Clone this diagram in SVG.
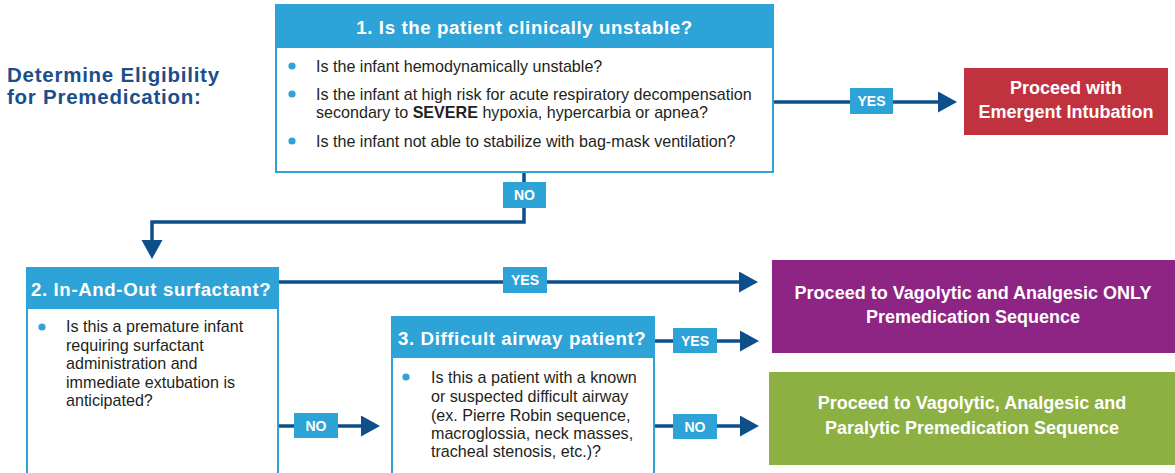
<svg xmlns="http://www.w3.org/2000/svg" width="1175" height="473" viewBox="0 0 1175 473">
  <style>
    text { font-family: "Liberation Sans", Arial, sans-serif; }
    .hdr { fill: #2ea3d8; }
    .frame { fill: #ffffff; stroke: #2ea3d8; stroke-width: 2; }
    .htxt { fill: #ffffff; font-weight: bold; font-size: 18.7px; letter-spacing: 0.6px; }
    .body { fill: #231f20; font-size: 16.1px; }
    .dot { fill: #2ea3d8; }
    .title { fill: #1b4f8b; font-weight: bold; font-size: 20.5px; letter-spacing: 0.75px; }
    .out { fill: #ffffff; font-weight: bold; font-size: 18px; text-anchor: middle; }
    .wire { fill: none; stroke: #0d4f8b; stroke-width: 3.5; }
    .tag { fill: #2ea3d8; }
    .tagtxt { fill: #ffffff; font-weight: bold; font-size: 14px; text-anchor: middle; }
  </style>
  <defs>
    <marker id="head" markerUnits="userSpaceOnUse" markerWidth="20" markerHeight="22" refX="2" refY="10.5" orient="auto">
      <path d="M0,0 L19,10.5 L0,21 Z" fill="#0d4f8b"/>
    </marker>
  </defs>

  <rect width="1175" height="473" fill="#ffffff"/>

  <!-- Heading -->
  <g id="heading">
    <text class="title" x="7" y="82">Determine Eligibility</text>
    <text class="title" x="7" y="104">for Premedication:</text>
  </g>

  <!-- Connectors -->
  <g id="connectors">
    <!-- 1 -> emergent intubation (YES) -->
    <path class="wire" d="M773,102 H940" marker-end="url(#head)"/>
    <!-- 1 -> 2 (NO) -->
    <path class="wire" d="M524,172 V222 H152 V242" marker-end="url(#head)"/>
    <!-- 2 -> vagolytic/analgesic only (YES) -->
    <path class="wire" d="M278,282 H741" marker-end="url(#head)"/>
    <!-- 2 -> 3 (NO) -->
    <path class="wire" d="M278,426 H363" marker-end="url(#head)"/>
    <!-- 3 -> vagolytic/analgesic only (YES) -->
    <path class="wire" d="M654,341 H742" marker-end="url(#head)"/>
    <!-- 3 -> full sequence (NO) -->
    <path class="wire" d="M654,426 H742" marker-end="url(#head)"/>

    <rect class="tag" x="850" y="88" width="43" height="26"/>
    <text class="tagtxt" x="871.5" y="106">YES</text>
    <rect class="tag" x="503" y="182" width="43" height="26"/>
    <text class="tagtxt" x="524.5" y="200">NO</text>
    <rect class="tag" x="503" y="267" width="44" height="26"/>
    <text class="tagtxt" x="525" y="285">YES</text>
    <rect class="tag" x="294" y="413" width="44" height="25"/>
    <text class="tagtxt" x="316" y="430.5">NO</text>
    <rect class="tag" x="673" y="328" width="44" height="25"/>
    <text class="tagtxt" x="695" y="345.5">YES</text>
    <rect class="tag" x="673" y="414" width="44" height="25"/>
    <text class="tagtxt" x="695" y="431.5">NO</text>
  </g>

  <!-- Question 1 -->
  <g id="q1">
    <rect class="frame" x="276" y="5" width="497" height="167"/>
    <rect class="hdr" x="275" y="4" width="499" height="44"/>
    <text class="htxt" x="524.5" y="34" text-anchor="middle">1. Is the patient clinically unstable?</text>
    <circle class="dot" cx="292" cy="66" r="3.6"/>
    <text class="body" x="316" y="72">Is the infant hemodynamically unstable?</text>
    <circle class="dot" cx="292" cy="94" r="3.6"/>
    <text class="body" x="316" y="100">Is the infant at high risk for acute respiratory decompensation</text>
    <text class="body" x="316" y="118">secondary to <tspan font-weight="bold">SEVERE</tspan> hypoxia, hypercarbia or apnea?</text>
    <circle class="dot" cx="292" cy="141" r="3.6"/>
    <text class="body" x="316" y="147">Is the infant not able to stabilize with bag-mask ventilation?</text>
  </g>

  <!-- Outcome: emergent intubation -->
  <g id="emergent">
    <rect x="964" y="68" width="204" height="67" fill="#c1323f"/>
    <text class="out" x="1066" y="94">Proceed with</text>
    <text class="out" x="1066" y="118">Emergent Intubation</text>
  </g>

  <!-- Question 2 -->
  <g id="q2">
    <rect class="frame" x="27" y="268" width="251" height="220"/>
    <rect class="hdr" x="26" y="267" width="253" height="42"/>
    <text class="htxt" x="31" y="296">2. In-And-Out surfactant?</text>
    <circle class="dot" cx="42" cy="327" r="3.6"/>
    <text class="body" x="66" y="332">Is this a premature infant</text>
    <text class="body" x="66" y="351">requiring surfactant</text>
    <text class="body" x="66" y="369">administration and</text>
    <text class="body" x="66" y="388">immediate extubation is</text>
    <text class="body" x="66" y="406">anticipated?</text>
  </g>

  <!-- Question 3 -->
  <g id="q3">
    <rect class="frame" x="392" y="317" width="262" height="170"/>
    <rect class="hdr" x="391" y="316" width="264" height="42"/>
    <text class="htxt" x="398" y="345">3. Difficult airway patient?</text>
    <circle class="dot" cx="406" cy="377" r="3.6"/>
    <text class="body" x="431" y="383">Is this a patient with a known</text>
    <text class="body" x="431" y="402">or suspected difficult airway</text>
    <text class="body" x="431" y="421">(ex. Pierre Robin sequence,</text>
    <text class="body" x="431" y="439">macroglossia, neck masses,</text>
    <text class="body" x="431" y="457">tracheal stenosis, etc.)?</text>
  </g>

  <!-- Outcome: vagolytic and analgesic only -->
  <g id="partial">
    <rect x="772" y="260" width="405" height="93" fill="#8e2585"/>
    <text class="out" x="973" y="299">Proceed to Vagolytic and Analgesic ONLY</text>
    <text class="out" x="973" y="323">Premedication Sequence</text>
  </g>

  <!-- Outcome: full sequence -->
  <g id="full">
    <rect x="769" y="372" width="408" height="93" fill="#8db042"/>
    <text class="out" x="972" y="409">Proceed to Vagolytic, Analgesic and</text>
    <text class="out" x="972" y="434">Paralytic Premedication Sequence</text>
  </g>
</svg>
